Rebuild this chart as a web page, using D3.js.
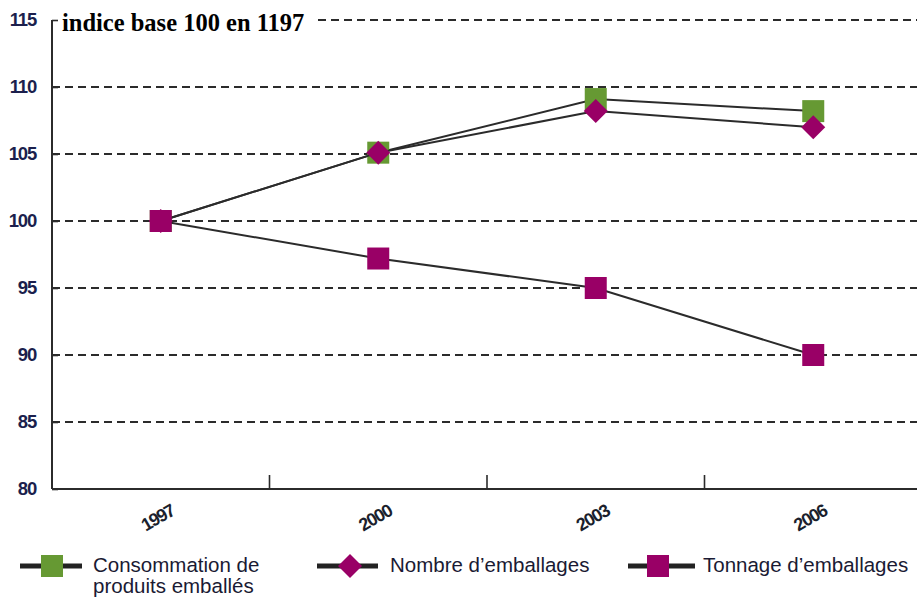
<!DOCTYPE html>
<html><head><meta charset="utf-8">
<script src="https://cdn.jsdelivr.net/npm/d3@7"></script>
<style>body{margin:0;background:#fff}svg{display:block}</style>
</head><body>
<svg id="c" width="917" height="597"></svg>
<script>
const years = ["1997","2000","2003","2006"];
const consommation = [100, 105.1, 109.1, 108.2];
const nombre = [100, 105.1, 108.2, 107.0];
const tonnage = [100, 97.2, 95.0, 90.0];
const yTicks = [80, 85, 90, 95, 100, 105, 110, 115];
const title = "indice base 100 en 1197";
const seriesNames = ["Consommation de|produits emballés", "Nombre d’emballages", "Tonnage d’emballages"];

const GREEN = "#669933", PURPLE = "#990066", INK = "#2b2b2b";
const svg = d3.select("#c");
const x = d3.scaleBand().domain(years).range([52, 922]);
const y = d3.scaleLinear().domain([80, 115]).range([489, 20]);
const cx = d => x(d) + x.bandwidth() / 2;

// gridlines
svg.append("g").selectAll("line").data(yTicks.filter(t => t > 80)).join("line")
  .attr("x1", t => t === 115 ? 318 : 52).attr("x2", 917)
  .attr("y1", t => Math.round(y(t))).attr("y2", t => Math.round(y(t)))
  .attr("stroke", INK).attr("stroke-width", 2).attr("stroke-dasharray", "8,5");

// y axis
const yAxis = d3.axisLeft(y).tickValues(yTicks).tickSize(-6).tickPadding(16).tickFormat(d3.format("d"));
const gy = svg.append("g").attr("transform", "translate(52,0)").call(yAxis);
gy.select(".domain").remove();
gy.selectAll(".tick line").attr("stroke", INK).attr("stroke-width", 1.6);
gy.selectAll(".tick text").attr("font-family", "'Liberation Sans', Arial, sans-serif")
  .attr("font-weight", "bold").attr("font-size", 18.5).attr("letter-spacing", -1.2)
  .attr("fill", "#1b1f4d");
svg.append("line").attr("x1", 52).attr("x2", 52).attr("y1", 20).attr("y2", 489)
  .attr("stroke", INK).attr("stroke-width", 2);

// x axis
svg.append("line").attr("x1", 52).attr("x2", 917).attr("y1", 489).attr("y2", 489)
  .attr("stroke", INK).attr("stroke-width", 2);
svg.append("g").selectAll("line").data(years.slice(1)).join("line")
  .attr("x1", d => x(d)).attr("x2", d => x(d)).attr("y1", 475).attr("y2", 489)
  .attr("stroke", INK).attr("stroke-width", 1.6);
svg.append("g").selectAll("text").data(years).join("text")
  .attr("transform", d => `translate(${cx(d)},${523}) rotate(-30)`)
  .attr("text-anchor", "middle")
  .attr("font-family", "'Liberation Sans', Arial, sans-serif").attr("font-size", 18)
  .attr("font-weight", "bold").attr("letter-spacing", -1.3)
  .attr("fill", "#1b1f2d").text(d => d);

// title
svg.append("text").attr("x", 62).attr("y", 31)
  .attr("font-family", "'Liberation Serif', 'Times New Roman', serif").attr("font-weight", "bold")
  .attr("font-size", 24.5).attr("fill", "#000").text(title);

const line = d3.line().x((d, i) => cx(years[i])).y(d => y(d));
const sq = 22;
function drawSeries(vals, shape, color) {
  svg.append("path").datum(vals).attr("d", line).attr("fill", "none")
    .attr("stroke", INK).attr("stroke-width", 2);
  const g = svg.append("g");
  if (shape === "square") {
    g.selectAll("rect").data(vals).join("rect")
      .attr("x", (d, i) => cx(years[i]) - sq / 2).attr("y", d => y(d) - sq / 2)
      .attr("width", sq).attr("height", sq).attr("fill", color);
  } else {
    g.selectAll("path").data(vals).join("path")
      .attr("transform", (d, i) => `translate(${cx(years[i])},${y(d)})`)
      .attr("d", "M0,-12L12,0L0,12L-12,0Z").attr("fill", color);
  }
}
drawSeries(consommation, "square", GREEN);
drawSeries(nombre, "diamond", PURPLE);
drawSeries(tonnage, "square", PURPLE);

// legend
const legend = [
  {name: seriesNames[0], shape: "square", color: GREEN, x0: 20, x1: 82, m: 52, tx: 93},
  {name: seriesNames[1], shape: "diamond", color: PURPLE, x0: 317, x1: 378, m: 350, tx: 390},
  {name: seriesNames[2], shape: "square", color: PURPLE, x0: 628, x1: 695, m: 658, tx: 703}
];
const ly = 566;
legend.forEach(l => {
  svg.append("line").attr("x1", l.x0).attr("x2", l.x1).attr("y1", ly).attr("y2", ly)
    .attr("stroke", "#222").attr("stroke-width", 5);
  if (l.shape === "square") {
    svg.append("rect").attr("x", l.m - 11).attr("y", ly - 11).attr("width", 22).attr("height", 22).attr("fill", l.color);
  } else {
    svg.append("path").attr("transform", `translate(${l.m},${ly})`).attr("d", "M0,-12L12,0L0,12L-12,0Z").attr("fill", l.color);
  }
  const t = svg.append("text").attr("x", l.tx).attr("y", 572)
    .attr("font-family", "'Liberation Sans', Arial, sans-serif").attr("font-size", 20.5).attr("fill", "#1a1a33");
  l.name.split("|").forEach((s, i) => {
    t.append("tspan").attr("x", l.tx).attr("dy", i ? 21 : 0).text(s);
  });
});
</script>
</body></html>
